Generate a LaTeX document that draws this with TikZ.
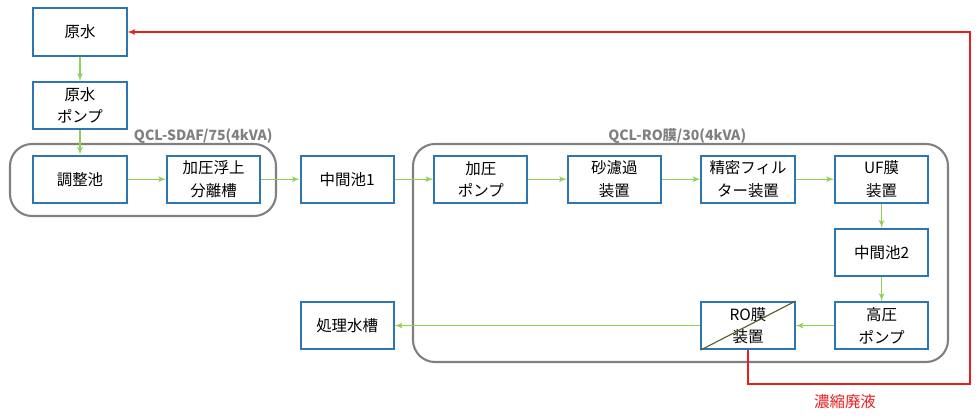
\documentclass[tikz,border=0pt]{standalone}
\usepackage{fontspec}
\setmainfont{Noto Sans CJK JP}
\usetikzlibrary{arrows}
\definecolor{boxblue}{RGB}{46,117,182}
\definecolor{flowgreen}{RGB}{146,208,80}
\definecolor{grpgray}{RGB}{128,128,128}
\definecolor{wastered}{RGB}{232,30,30}
\definecolor{diagolive}{RGB}{79,98,40}

\begin{document}
\begin{tikzpicture}
[>=latex',node distance=3.34cm,font=\fontsize{11}{16}\selectfont]
  \tikzstyle{box}=[draw=boxblue,line width=1.3pt,fill=white,minimum width=2.33cm,minimum height=1.18cm,align=center,inner sep=1pt]
  \tikzstyle{grp}=[draw=grpgray,line width=1.5pt,rounded corners=0.55cm]
  \tikzstyle{grplabel}=[text=grpgray,font=\fontsize{10}{12}\selectfont\bfseries,anchor=base]
  \tikzstyle{flow}=[every edge/.style={draw=flowgreen,line width=0.9pt,->}]
  \tikzstyle{waste}=[->,draw=wastered,line width=0.9pt]

  \useasboundingbox (0,0) rectangle (24.5,-10.425);

  % unit groups
  \node[grp,minimum width=6.65cm,minimum height=1.8cm] (sdaf) at (3.575,-4.5) {};
  \node[grp,minimum width=13.375cm,minimum height=5.45cm] (rog) at (17.0125,-6.325) {};
  \node[grplabel] (sdafl) at (5.08,-3.52) {QCL-SDAF/75(4kVA)};
  \node[grplabel] (rogl) at (16.93,-3.52) {QCL-RO膜/30(4kVA)};

  \node[box] (raw) at (2,-0.8) {原水};
  \node[box]         (rawp) [node distance=1.84cm,below of=raw] {原水\\ポンプ};
  \node[box]         (adj) [node distance=1.84cm,below of=rawp] {調整池};
  \node[box]         (daf) [right of=adj]       {加圧浮上\\分離槽};
  \node[box]         (mid1) [right of=daf]      {中間池1};
  \node[box]         (pp) [right of=mid1]       {加圧\\ポンプ};
  \node[box]         (sand) [right of=pp]       {砂濾過\\装置};
  \node[box]         (mf) [right of=sand]       {精密フィル\\ター装置};
  \node[box]         (uf) [right of=mf]         {UF膜\\装置};
  \node[box]         (mid2) [node distance=1.83cm,below of=uf] {中間池2};
  \node[box]         (hp) [node distance=1.83cm,below of=mid2] {高圧\\ポンプ};
  \node[box]         (ro) [left of=hp]          {RO膜\\装置};
  \node[box]         (tank) [node distance=3.66cm,below of=mid1] {処理水槽};
  \draw[diagolive,line width=0.8pt] (ro.south west) -- (ro.north east);

  \path[flow] (raw) edge (rawp)
        (rawp) edge (adj)
        (adj) edge (daf)
        (daf) edge (mid1)
        (mid1) edge (pp)
        (pp) edge (sand)
        (sand) edge (mf)
        (mf) edge (uf)
        (uf) edge (mid2)
        (mid2) edge (hp)
        (hp) edge (ro)
        (ro) edge (tank)
            ;

  % concentrate back to raw water
  \coordinate (wc) at (24.25,-9.6);
  \draw[waste] (ro.south) |- (wc) |- (raw.east);
  \node[text=wastered] (wastel) at (21.125,-10.05) {濃縮廃液};
\end{tikzpicture}
\end{document}
